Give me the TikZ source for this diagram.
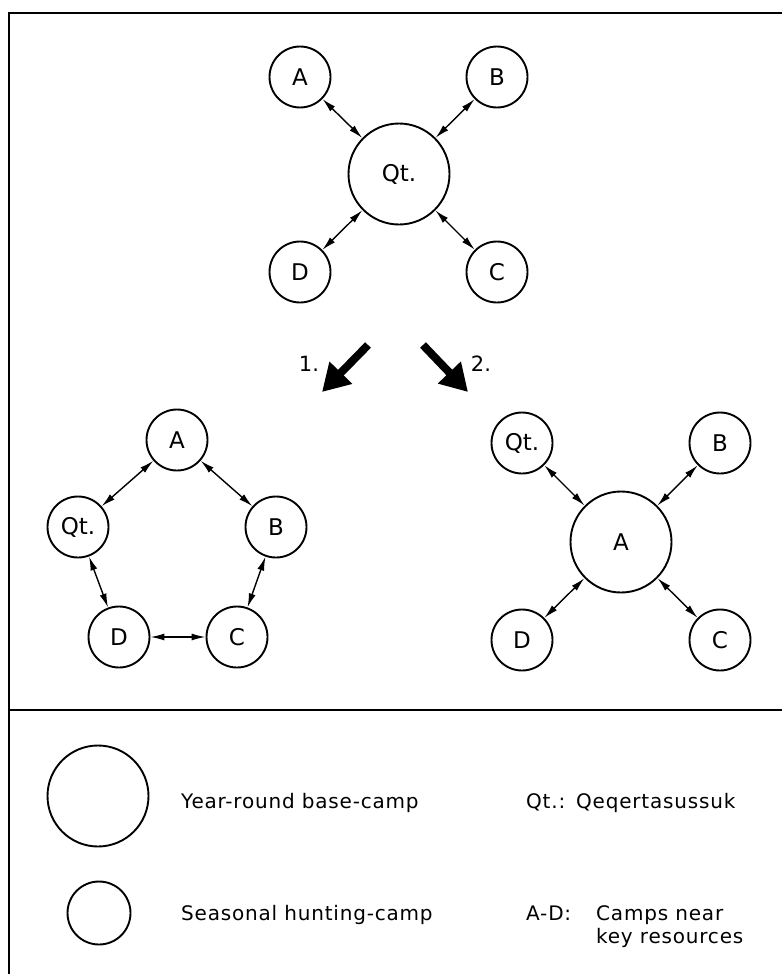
\documentclass[tikz,border=0pt]{standalone}
\usepackage{fontspec}
\setmainfont{DejaVu Sans}
\newfontfamily\legfont[LetterSpace=4]{DejaVu Sans}
\usetikzlibrary{arrows.meta}
\begin{document}
\begin{tikzpicture}[x=1pt,y=-1pt,
  bigcamp/.style={circle,draw,line width=1.9pt,minimum size=101pt,inner sep=0pt,font=\fontsize{23}{25}\selectfont},
  smallcamp/.style={circle,draw,line width=1.9pt,minimum size=61pt,inner sep=0pt,font=\fontsize{23}{25}\selectfont},
  link/.style={line width=1.4pt,{Latex[length=14pt,width=7pt]}-{Latex[length=14pt,width=7pt]}},
  bigarrow/.style={line width=8pt,-{Triangle[length=27pt,width=30pt]}},
  frameline/.style={line width=2.5pt},
  legtext/.style={anchor=base west,font=\legfont\fontsize{20}{24}\selectfont,inner sep=0pt},
  numlabel/.style={font=\fontsize{21}{24}\selectfont,inner sep=0pt}
]
\useasboundingbox (0,0) rectangle (782,974);

% frame
\coordinate (fbl) at (9,974);
\coordinate (ftl) at (9,13);
\coordinate (ftr) at (782,13);
\coordinate (dl) at (9,710);
\coordinate (dr) at (782,710);
\draw[frameline] (fbl) -- (ftl) -- (ftr);
\draw[frameline] (dl) -- (dr);

% top diagram
\node[bigcamp] (tQ) at (399,174) {Qt.};
\node[smallcamp] (tA) at (300,77) {A};
\node[smallcamp] (tB) at (497,77) {B};
\node[smallcamp] (tD) at (300,272) {D};
\node[smallcamp] (tC) at (497,272) {C};
\draw[link] (tA) -- (tQ);
\draw[link] (tB) -- (tQ);
\draw[link] (tD) -- (tQ);
\draw[link] (tC) -- (tQ);

% big arrows
\coordinate (a1s) at (368,345);
\coordinate (a1e) at (322,392);
\coordinate (a2s) at (423,345);
\coordinate (a2e) at (468,392);
\draw[bigarrow] (a1s) -- (a1e);
\draw[bigarrow] (a2s) -- (a2e);
\node[numlabel] (n1) at (309,364) {1.};
\node[numlabel] (n2) at (481,364) {2.};

% pentagon (option 1)
\node[smallcamp] (pA) at (177,440) {A};
\node[smallcamp] (pQ) at (78,527) {Qt.};
\node[smallcamp] (pB) at (276,527) {B};
\node[smallcamp] (pD) at (119,637) {D};
\node[smallcamp] (pC) at (237,637) {C};
\draw[link] (pA) -- (pQ);
\draw[link] (pA) -- (pB);
\draw[link] (pQ) -- (pD);
\draw[link] (pB) -- (pC);
\draw[link] (pD) -- (pC);

% option 2
\node[bigcamp] (rA) at (621,542) {A};
\node[smallcamp] (rQ) at (522,443) {Qt.};
\node[smallcamp] (rB) at (720,443) {B};
\node[smallcamp] (rD) at (522,640) {D};
\node[smallcamp] (rC) at (720,640) {C};
\draw[link] (rQ) -- (rA);
\draw[link] (rB) -- (rA);
\draw[link] (rD) -- (rA);
\draw[link] (rC) -- (rA);

% legend
\node[bigcamp] (lbig) at (98,796) {};
\node[smallcamp,minimum size=63pt] (lsmall) at (99,913) {};
\node[legtext] (t1) at (181,808) {Year-round base-camp};
\node[legtext] (t2) at (181,920) {Seasonal hunting-camp};
\node[legtext] (t3) at (526,808) {Qt.:};
\node[legtext] (t4) at (576,808) {Qeqertasussuk};
\node[legtext] (t5) at (526,920) {A-D:};
\node[legtext] (t6) at (596,920) {Camps near};
\node[legtext] (t7) at (596,943) {key resources};
\end{tikzpicture}
\end{document}
